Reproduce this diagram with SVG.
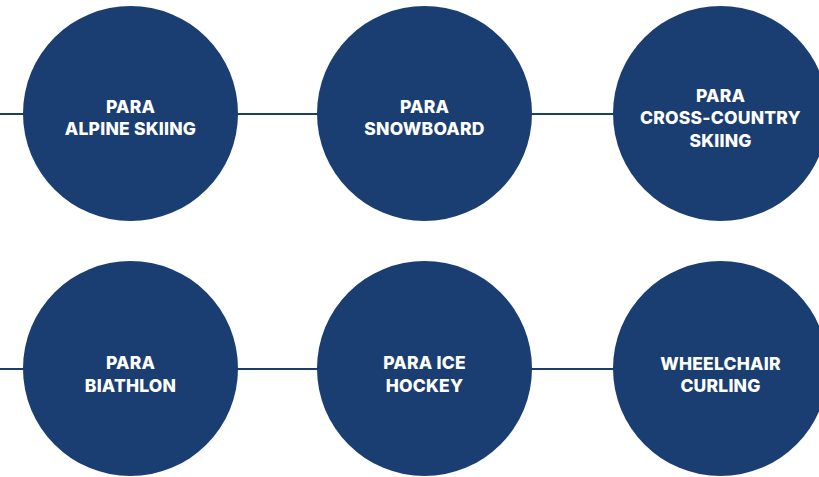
<svg xmlns="http://www.w3.org/2000/svg" width="819" height="477" viewBox="0 0 819 477">
  <style>
    .link { stroke: #1a3e71; stroke-width: 2; fill: none; }
    .disc { fill: #1a3e71; }
    .label { fill: #ffffff; font-family: "Inter", "DejaVu Sans", sans-serif; font-weight: 800; font-size: 17.5px; letter-spacing: 0.2px; text-anchor: middle; }
  </style>
  <rect width="819" height="477" fill="#ffffff"/>
  <g id="connectors">
    <line class="link" x1="0" y1="114" x2="720" y2="114"/>
    <line class="link" x1="0" y1="369" x2="720" y2="369"/>
  </g>
  <g id="para-alpine-skiing">
    <circle class="disc" cx="130.5" cy="113.5" r="107.5"/>
    <text class="label" x="130.5" y="113">PARA</text>
    <text class="label" x="130.5" y="135">ALPINE SKIING</text>
  </g>
  <g id="para-snowboard">
    <circle class="disc" cx="424.5" cy="113.5" r="107.5"/>
    <text class="label" x="424.5" y="113">PARA</text>
    <text class="label" x="424.5" y="135">SNOWBOARD</text>
  </g>
  <g id="para-cross-country-skiing">
    <circle class="disc" cx="720.5" cy="113.5" r="107.5"/>
    <text class="label" x="720.5" y="102">PARA</text>
    <text class="label" x="720.5" y="124">CROSS-COUNTRY</text>
    <text class="label" x="720.5" y="146.5">SKIING</text>
  </g>
  <g id="para-biathlon">
    <circle class="disc" cx="130.5" cy="368.5" r="107.5"/>
    <text class="label" x="130.5" y="369">PARA</text>
    <text class="label" x="130.5" y="391.5">BIATHLON</text>
  </g>
  <g id="para-ice-hockey">
    <circle class="disc" cx="424.5" cy="368.5" r="107.5"/>
    <text class="label" x="424.5" y="369">PARA ICE</text>
    <text class="label" x="424.5" y="391.5">HOCKEY</text>
  </g>
  <g id="wheelchair-curling">
    <circle class="disc" cx="720.5" cy="368.5" r="107.5"/>
    <text class="label" x="720.5" y="369.5">WHEELCHAIR</text>
    <text class="label" x="720.5" y="391.5">CURLING</text>
  </g>
</svg>
